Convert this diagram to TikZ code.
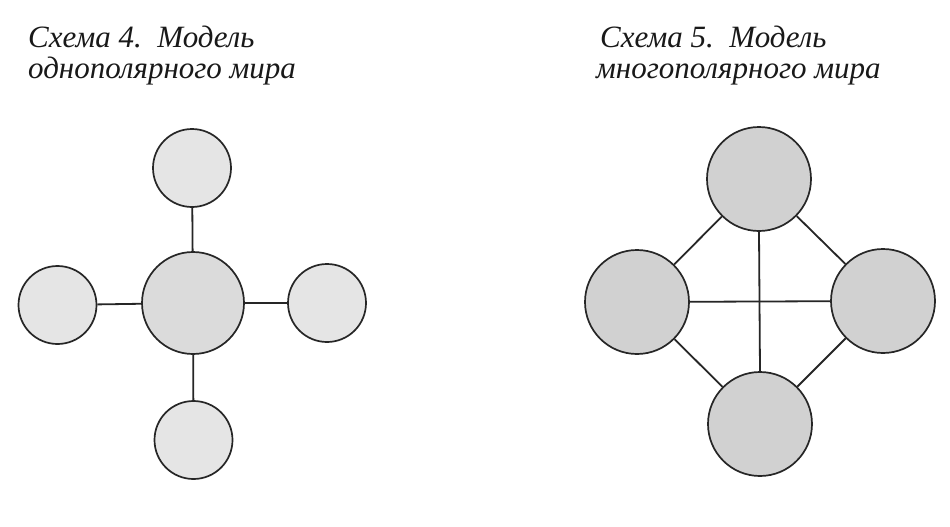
\documentclass[tikz,border=0pt]{standalone}
\usepackage{fontspec}
\setmainfont{Liberation Serif}
\begin{document}
\begin{tikzpicture}[x=1pt,y=-1pt,
  ball/.style={circle,draw=black!85,line width=1.7pt,inner sep=0pt},
  lightball/.style={ball,fill=black!10},
  midball/.style={ball,fill=black!14},
  darkball/.style={ball,fill=black!18},
  link/.style={draw=black!85,line width=1.8pt},
  title/.style={anchor=base west,inner sep=0pt,font=\fontsize{31}{32}\selectfont\itshape,text=black!90}]
\useasboundingbox (0,0) rectangle (950,527);
\fill[white] (0,0) rectangle (950,527);
% titles
\node[title] (t4a) at (28,48) {Схема 4.\, Модель};
\node[title] (t4b) at (28,78) {однополярного мира};
\node[title] (t5a) at (600,48) {Схема 5.\, Модель};
\node[title] (t5b) at (596,78) {многополярного мира};
% unipolar
\node[midball,minimum size=102pt] (c) at (193,303) {};
\node[lightball,minimum size=78pt] (n) at (192,168) {};
\node[lightball,minimum size=78pt] (w) at (57.5,305) {};
\node[lightball,minimum size=78pt] (e) at (327,303) {};
\node[lightball,minimum size=78pt] (s) at (193.5,440) {};
\draw[link] (c) -- (n);
\draw[link] (c) -- (w);
\draw[link] (c) -- (e);
\draw[link] (c) -- (s);
% multipolar
\node[darkball,minimum size=104pt] (T) at (759,179) {};
\node[darkball,minimum size=104pt] (L) at (637,302) {};
\node[darkball,minimum size=104pt] (R) at (883,301) {};
\node[darkball,minimum size=104pt] (B) at (760,424) {};
\draw[link] (T) -- (L);
\draw[link] (T) -- (R);
\draw[link] (L) -- (B);
\draw[link] (R) -- (B);
\draw[link] (L) -- (R);
\draw[link] (T.south) -- (B.north);
\end{tikzpicture}
\end{document}
